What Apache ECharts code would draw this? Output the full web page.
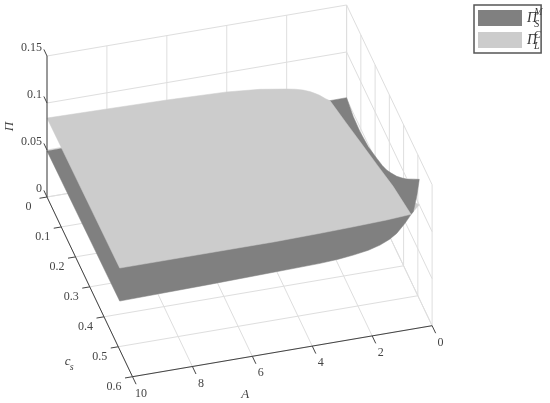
<!DOCTYPE html>
<html>
<head>
<meta charset="utf-8">
<title>Profit surfaces</title>
<script src="https://cdn.jsdelivr.net/npm/echarts@6/dist/echarts.min.js"></script>
<style>
  html, body { margin: 0; padding: 0; background: #fff; }
  #chart { width: 550px; height: 403px; }
</style>
</head>
<body>
<div id="chart"></div>
<script>
const aTicks = [0, 2, 4, 6, 8, 10]
const csTicks = [0, 0.1, 0.2, 0.3, 0.4, 0.5, 0.6]
const piTicks = [0, 0.05, 0.1, 0.15]
const piTickLabels = ['0', '0.05', '0.1', '0.15']

// outline of each surface, walked back edge -> A=0 side -> front edge
const darkA = [10, 0, 0, 0, 0, 0, 0, 0, 0, 0, 0, 0, 0, 0, 0.077, 0.2, 0.277, 0.477, 0.754, 1, 1.31, 1.7, 2.2, 2.7, 3.31, 4.82, 7, 10]
const darkCs = [0, 0, 0.047, 0.094, 0.152, 0.211, 0.25, 0.281, 0.31, 0.352, 0.39, 0.422, 0.47, 0.51, 0.51, 0.51, 0.51, 0.51, 0.51, 0.51, 0.51, 0.51, 0.51, 0.51, 0.51, 0.51, 0.51, 0.51]
const darkPi = [0.049, 0.0514, 0.0462, 0.0452, 0.0476, 0.0543, 0.059, 0.064, 0.0702, 0.0799, 0.0902, 0.0993, 0.1145, 0.127, 0.1107, 0.0936, 0.091, 0.0828, 0.0736, 0.0685, 0.0642, 0.0608, 0.0584, 0.0567, 0.0556, 0.0546, 0.0532, 0.0518]

const lightA = [10, 8, 6, 4, 2.89, 2, 1.7, 1.455, 1.2, 1, 0.9, 0.7, 0.55, 0.5, 0.45, 0.4, 0.35, 0.277, 1.09, 2.2, 3.31, 4.82, 10]
const lightCs = [0, 0, 0, 0, 0, 0, 0, 0, 0, 0, 0, 0, 0, 0.1, 0.2, 0.3, 0.4, 0.51, 0.51, 0.51, 0.51, 0.51, 0.51]
const lightPi = [0.084, 0.0828, 0.0815, 0.0792, 0.076, 0.0715, 0.0696, 0.0674, 0.0642, 0.0607, 0.0588, 0.054, 0.051, 0.0596, 0.0685, 0.0773, 0.0864, 0.0913, 0.0897, 0.0885, 0.0876, 0.0868, 0.0869]

// the small part of the light surface that pokes out behind the dark one
const lightTailA = [0.277, 0, 0]
const lightTailCs = [0.51, 0.51, 0.45]
const lightTailPi = [0.0913, 0.1, 0.085]

const AXIS_MAX = { a: 10, cs: 0.6, pi: 0.15 }
const DARK = '#808080'
const LIGHT = '#cccccc'
const GRID = '#dedede'
const INK = '#444444'
const FONT = '"Liberation Serif", serif'

// orthographic view: where A=0, cs=0, pi=0 lands and how far one unit moves it
const project = (a, cs, pi) => [
  346.6 - 29.96 * a + 142.5 * cs,
  146 + 5.1 * a + 299.5 * cs - 940 * pi
]

const lineEl = (api, from, to, color, width) => {
  const p1 = api.coord(project(...from))
  const p2 = api.coord(project(...to))
  return {
    type: 'line',
    shape: { x1: p1[0], y1: p1[1], x2: p2[0], y2: p2[1] },
    style: { stroke: color, lineWidth: width }
  }
}

const textEl = (api, at, dx, dy, text, extra) => {
  const p = api.coord(project(...at))
  return {
    type: 'text',
    x: p[0] + dx,
    y: p[1] + dy,
    style: Object.assign({
      text: text,
      fill: INK,
      font: '12px ' + FONT,
      align: 'center',
      verticalAlign: 'middle'
    }, extra)
  }
}

const renderGrid = (params, api) => {
  const children = []
  const { a: aMax, cs: csMax, pi: piMax } = AXIS_MAX
  aTicks.forEach(a => {
    children.push(lineEl(api, [a, 0, 0], [a, csMax, 0], GRID, 1))
    children.push(lineEl(api, [a, 0, 0], [a, 0, piMax], GRID, 1))
  })
  csTicks.forEach(cs => {
    children.push(lineEl(api, [0, cs, 0], [aMax, cs, 0], GRID, 1))
    children.push(lineEl(api, [0, cs, 0], [0, cs, piMax], GRID, 1))
  })
  piTicks.forEach(pi => {
    children.push(lineEl(api, [0, 0, pi], [aMax, 0, pi], GRID, 1))
    children.push(lineEl(api, [0, 0, pi], [0, csMax, pi], GRID, 1))
  })
  return { type: 'group', children }
}

const renderAxes = (params, api) => {
  const children = []
  const { a: aMax, cs: csMax, pi: piMax } = AXIS_MAX
  children.push(lineEl(api, [aMax, 0, 0], [aMax, 0, piMax], INK, 1))
  children.push(lineEl(api, [aMax, 0, 0], [aMax, csMax, 0], INK, 1))
  children.push(lineEl(api, [0, csMax, 0], [aMax, csMax, 0], INK, 1))
  piTicks.forEach((pi, i) => {
    children.push(lineEl(api, [aMax, 0, pi], [aMax, -0.022, pi], INK, 1))
    children.push(textEl(api, [aMax, 0, pi], -5, -8, piTickLabels[i], { align: 'right' }))
  })
  csTicks.forEach(cs => {
    children.push(lineEl(api, [aMax, cs, 0], [aMax + 0.25, cs, 0], INK, 1))
    children.push(textEl(api, [aMax, cs, 0], -18.5, 9.7, String(cs)))
  })
  aTicks.forEach(a => {
    children.push(lineEl(api, [a, csMax, 0], [a, csMax + 0.025, 0], INK, 1))
    children.push(textEl(api, [a, csMax, 0], 8.5, 17, String(a)))
  })
  // axis titles
  const italic = 'italic 13px ' + FONT
  const piTitle = textEl(api, [aMax, 0, 0.075], -37.5, 0, 'Π', { font: italic })
  piTitle.rotation = Math.PI / 2
  children.push(piTitle)
  children.push(textEl(api, [aMax, 0.5, 0], -50.6, 15, 'c', { font: italic }))
  children.push(textEl(api, [aMax, 0.5, 0], -46.6, 21, 's', { font: 'italic 10px ' + FONT }))
  children.push(textEl(api, [5, csMax, 0], -37, 43, 'A', { font: italic }))
  return { type: 'group', children, silent: true }
}

const renderSurface = (aList, csList, piList, color) => (params, api) => ({
  type: 'polygon',
  shape: { points: aList.map((a, i) => api.coord(project(a, csList[i], piList[i]))) },
  style: { fill: color, stroke: color, lineWidth: 0.5 }
})

const scriptText = (x, y, text) => ({
  type: 'text',
  x: x,
  y: y,
  style: {
    text: text,
    font: 'italic 10px ' + FONT,
    fill: '#333333',
    align: 'center',
    verticalAlign: 'middle'
  }
})

const chart = echarts.init(document.getElementById('chart'))
chart.setOption({
  animation: false,
  backgroundColor: '#ffffff',
  grid: { left: 0, right: 0, top: 0, bottom: 0 },
  xAxis: { type: 'value', min: 0, max: 550, show: false },
  yAxis: { type: 'value', min: 0, max: 403, inverse: true, show: false },
  legend: {
    left: 474,
    top: 5,
    orient: 'vertical',
    padding: [5, 4, 5, 4],
    itemWidth: 44,
    itemHeight: 16,
    itemGap: 6,
    icon: 'rect',
    borderColor: '#555555',
    borderWidth: 1.5,
    selectedMode: false,
    data: ['ΠSM', 'ΠLC'],
    formatter: () => '{p|Π}',
    textStyle: {
      rich: {
        p: {
          width: 20,
          height: 16,
          fontFamily: FONT,
          fontStyle: 'italic',
          fontSize: 14,
          color: '#333333'
        }
      }
    }
  },
  graphic: [
    scriptText(538.3, 12.7, 'M'),
    scriptText(536.7, 24.3, 'S'),
    scriptText(537.3, 35, 'C'),
    scriptText(536.7, 46.7, 'L')
  ],
  series: [
    { type: 'custom', name: 'grid', silent: true, clip: false, data: [[0, 0]], renderItem: renderGrid },
    { type: 'custom', name: 'tail', silent: true, clip: false, data: [[0, 0]], renderItem: renderSurface(lightTailA, lightTailCs, lightTailPi, LIGHT) },
    { type: 'custom', name: 'ΠSM', silent: true, clip: false, itemStyle: { color: DARK }, data: [[0, 0]], renderItem: renderSurface(darkA, darkCs, darkPi, DARK) },
    { type: 'custom', name: 'ΠLC', silent: true, clip: false, itemStyle: { color: LIGHT }, data: [[0, 0]], renderItem: renderSurface(lightA, lightCs, lightPi, LIGHT) },
    { type: 'custom', name: 'axes', silent: true, clip: false, data: [[0, 0]], renderItem: renderAxes }
  ]
})
</script>
</body>
</html>
